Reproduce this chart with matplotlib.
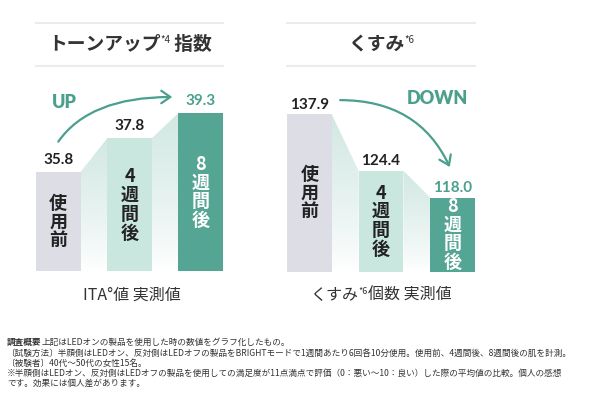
import matplotlib
matplotlib.use('Agg')
import matplotlib.pyplot as plt
import numpy as np
from matplotlib.patches import Polygon, FancyArrowPatch
from matplotlib.colors import LinearSegmentedColormap

# ---------------- data ----------------
categories = ['使用前', '4週間後', '8週間後']
inner_labels = ['使\n用\n前', '4\n週\n間\n後', '8\n週\n間\n後']
tone_values = [35.8, 37.8, 39.3]
dull_values = [137.9, 124.4, 118.0]
tone_title = ['トーンアップ', '*4', ' 指数']
dull_title = ['くすみ', '*6']
tone_xlabel = ['ITA°値 実測値']
dull_xlabel = ['くすみ', '*6', '個数 実測値']
notes_head = '調査概要'
notes = [
    '上記はLEDオンの製品を使用した時の数値をグラフ化したもの。',
    '〔試験方法〕半顔側はLEDオン、反対側はLEDオフの製品をBRIGHTモードで1週間あたり6回各10分使用。使用前、4週間後、8週間後の肌を計測。',
    '〔被験者〕40代～50代の女性15名。',
    '※半顔側はLEDオン、反対側はLEDオフの製品を使用しての満足度が11点満点で評価（0：悪い～10：良い）した際の平均値の比較。個人の感想',
    'です。効果には個人差があります。',
]

# ---------------- style ----------------
W, H = 599, 400
JP = ['Noto Sans CJK JP', 'DejaVu Sans']
NUM = ['Lato', 'DejaVu Sans']
TEAL = '#4a9f8d'
DARK = '#222222'
BAR_COLORS = ['#dcdde5', '#c9e6df', '#55a595']
INNER_COLORS = [DARK, DARK, '#ffffff']
VALUE_COLORS = [DARK, DARK, TEAL]

fig = plt.figure(figsize=(W / 100, H / 100), dpi=100)
fig.patch.set_facecolor('white')
renderer = fig.canvas.get_renderer()


def fx(x):
    return x / W


def fy(y):
    return 1 - y / H


def runs(x, y, parts, align='center'):
    """Lay out text runs side by side; parts = (text, size, weight, dy, color)."""
    objs = []
    for text, size, weight, dy, color in parts:
        t = fig.text(0, 0, text, fontsize=size, fontweight=weight, color=color,
                     family=JP, va='center', ha='left')
        objs.append((t, dy))
    widths = [t.get_window_extent(renderer).width for t, _ in objs]
    total = sum(widths)
    cur = x - total / 2 if align == 'center' else x
    for (t, dy), wd in zip(objs, widths):
        t.set_position((fx(cur), fy(y + dy)))
        cur += wd


def title_lines(x0, x1):
    for y in (23, 66):
        fig.add_artist(plt.Line2D([fx(x0), fx(x1)], [fy(y), fy(y)],
                                  color='#ebebeb', lw=1.5, transform=fig.transFigure))


def panel(x0, x1, values, ylo, ppu, gap_pt):
    base_px, top_px = 271.5, 80
    ax = fig.add_axes([fx(x0), fy(base_px), (x1 - x0) / W, (base_px - top_px) / H])
    w = 0.625
    ax.set_xlim(-w / 2, 2 + w / 2)
    ax.set_ylim(ylo, ylo + (base_px - top_px) / ppu)
    ax.axis('off')
    xs = np.arange(len(values))
    ax.bar(xs, [v - ylo for v in values], bottom=ylo, width=w, color=BAR_COLORS,
           zorder=3, linewidth=0)
    # gradient connectors between bars
    cmap = LinearSegmentedColormap.from_list('g', ['#ffffff', '#d2e8e3'])
    grad = np.linspace(1, 0, 256).reshape(-1, 1) ** 0.8
    for i in range(len(values) - 1):
        xa, xb = xs[i] + w / 2, xs[i + 1] - w / 2
        va, vb = values[i], values[i + 1]
        poly = Polygon([(xa, ylo), (xa, va), (xb, vb), (xb, ylo)], closed=True,
                       transform=ax.transData, facecolor='none', edgecolor='none')
        ax.add_patch(poly)
        im = ax.imshow(grad, extent=[xa, xb, ylo, max(va, vb)], aspect='auto',
                       cmap=cmap, vmin=0, vmax=1, origin='upper', zorder=1)
        im.set_clip_path(poly)
    ax.set_xlim(-w / 2, 2 + w / 2)
    ax.set_ylim(ylo, ylo + (base_px - top_px) / ppu)
    for i, v in enumerate(values):
        ax.annotate(f'{v:.1f}', (i, v), xytext=(0, gap_pt), textcoords='offset points',
                    ha='center', va='baseline', fontsize=11, family=NUM,
                    fontweight='bold', color=VALUE_COLORS[i], zorder=5)
        ax.text(i, (ylo + v) / 2, inner_labels[i], ha='center', va='center',
                fontsize=13, fontweight='bold', family=JP, color=INNER_COLORS[i],
                linespacing=0.98, zorder=5)
    return ax


ARROW = '->,head_length=6.5,head_width=4.5'

# ---------------- left panel ----------------
title_lines(36, 223)
runs(130, 44, [(tone_title[0], 13.5, 'bold', 0, '#333333'),
               (tone_title[1], 7, 'normal', -4, '#333333'),
               (tone_title[2], 13.5, 'bold', 0, '#333333')])
axl = panel(36, 223, tone_values, 29.9, 16.86, 6)
axl.add_patch(FancyArrowPatch((0, tone_values[0] + 1.8), (1.6, tone_values[2] + 0.95),
                              connectionstyle='angle3,angleA=55,angleB=0',
                              arrowstyle=ARROW, color=TEAL, lw=1.6, zorder=6,
                              shrinkA=0, shrinkB=0))
fig.text(fx(64), fy(102), 'UP', fontsize=13, fontweight='heavy', family=NUM,
         color=TEAL, ha='center', va='center')
runs(132, 295, [(tone_xlabel[0], 11.5, 'normal', 0, '#333333')])

# ---------------- right panel ----------------
title_lines(287, 475)
runs(381, 44, [(dull_title[0], 13.5, 'bold', 0, '#333333'),
               (dull_title[1], 7, 'normal', -4, '#333333')])
axr = panel(287, 475, dull_values, 100.3, 4.18, 4)
axr.add_patch(FancyArrowPatch((0.43, dull_values[0] + 3.4), (1.96, dull_values[2] + 7.3),
                              connectionstyle='angle3,angleA=0,angleB=115',
                              arrowstyle=ARROW, color=TEAL, lw=1.6, zorder=6,
                              shrinkA=0, shrinkB=0))
fig.text(fx(437), fy(99), 'DOWN', fontsize=13, fontweight='heavy', family=NUM,
         color=TEAL, ha='center', va='center')
runs(381, 295, [(dull_xlabel[0], 11.5, 'normal', 0, '#333333'),
                (dull_xlabel[1], 6.5, 'normal', -3, '#333333'),
                (dull_xlabel[2], 11.5, 'normal', 0, '#333333')])

# ---------------- notes ----------------
note_y = [342, 353, 363, 373, 383]
NS = 6.2
runs(7, note_y[0], [(notes_head, NS, 'bold', 0, '#333333'),
                    (notes[0], NS, 'normal', 0, '#333333')], align='left')
for y, line in zip(note_y[1:], notes[1:]):
    runs(7, y, [(line, NS, 'normal', 0, '#333333')], align='left')

fig.savefig('out.png', dpi=100, facecolor='white')
